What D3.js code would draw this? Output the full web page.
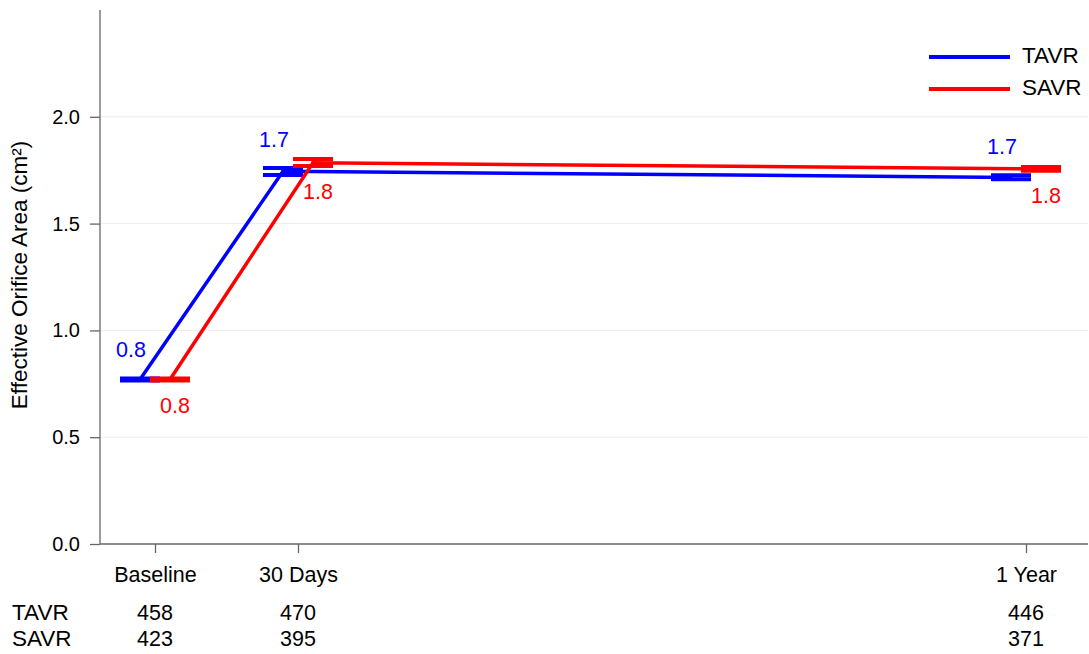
<!DOCTYPE html>
<html>
<head>
<meta charset="utf-8">
<script src="https://cdn.jsdelivr.net/npm/d3@7/dist/d3.min.js"></script>
<style>
  html, body { margin: 0; padding: 0; background: #fff; }
  svg { display: block; font-family: "Liberation Sans", Arial, sans-serif; }
</style>
</head>
<body>
<svg id="chart" width="1089" height="654"></svg>
<script>
// ---- data ----
const timeLabels = ["Baseline", "30 Days", "1 Year"];
const timeDays = [0, 30, 365];
const yTicks = [0.0, 0.5, 1.0, 1.5, 2.0];

const tavrMean  = [0.77, 1.745, 1.716];
const tavrLower = [0.765, 1.728, 1.708];
const tavrUpper = [0.775, 1.760, 1.726];
const tavrLabel = ["0.8", "1.7", "1.7"];
const tavrN     = ["458", "470", "446"];

const savrMean  = [0.77, 1.785, 1.756];
const savrLower = [0.765, 1.770, 1.748];
const savrUpper = [0.775, 1.802, 1.765];
const savrLabel = ["0.8", "1.8", "1.8"];
const savrN     = ["423", "395", "371"];

// ---- layout ----
const svg = d3.select("#chart");
const plotLeft = 100, plotRight = 1088, plotTop = 10, plotBottom = 544;

const x = d3.scaleLinear().domain(timeDays).range([155, 298, 1026]);
const y = d3.scaleLinear().domain([0, 2.5]).range([plotBottom, plotTop]);

// gridlines
svg.append("g").selectAll("line").data(yTicks.filter(d => d > 0)).join("line")
  .attr("x1", plotLeft).attr("x2", plotRight)
  .attr("y1", d => y(d)).attr("y2", d => y(d))
  .attr("stroke", "#ececec").attr("stroke-width", 1);

// y axis
const yAxis = d3.axisLeft(y).tickValues(yTicks).tickFormat(d3.format(".1f")).tickSize(10).tickPadding(10);
const gy = svg.append("g").attr("transform", `translate(${plotLeft},0)`).call(yAxis);
gy.select(".domain").attr("stroke", "#666").attr("stroke-width", 1.3).attr("d", `M0,${plotTop}V${plotBottom}`);
gy.selectAll(".tick line").attr("stroke", "#666").attr("stroke-width", 1.3);
gy.selectAll(".tick text").attr("font-size", 20).attr("fill", "#000")
  .attr("font-family", "Liberation Sans, Arial, sans-serif");

// x axis
const xAxis = d3.axisBottom(x).tickValues(timeDays).tickFormat((d, i) => timeLabels[i]).tickSize(9).tickPadding(14);
const gx = svg.append("g").attr("transform", `translate(0,${plotBottom})`).call(xAxis);
gx.select(".domain").attr("stroke", "#666").attr("stroke-width", 1.3).attr("d", `M${plotLeft},0H${plotRight}`);
gx.selectAll(".tick line").attr("stroke", "#666").attr("stroke-width", 1.3);
gx.selectAll(".tick text").attr("font-size", 21.5).attr("fill", "#000")
  .attr("font-family", "Liberation Sans, Arial, sans-serif");

// y label
svg.append("text")
  .attr("transform", `translate(27,275) rotate(-90)`)
  .attr("text-anchor", "middle").attr("font-size", 22.5).attr("fill", "#000")
  .text("Effective Orifice Area (cm²)");

// series
const offset = 15, capHalf = 20;
function drawSeries(color, mean, lower, upper, labels, dx, labelDx, labelDy, above) {
  const g = svg.append("g");
  const pts = timeDays.map((t, i) => [x(t) + dx, y(mean[i])]);
  g.append("path").attr("d", d3.line()(pts)).attr("fill", "none")
    .attr("stroke", color).attr("stroke-width", 3.5);
  timeDays.forEach((t, i) => {
    const cx = x(t) + dx;
    [lower[i], upper[i]].forEach(v => {
      g.append("line").attr("x1", cx - capHalf).attr("x2", cx + capHalf)
        .attr("y1", y(v)).attr("y2", y(v)).attr("stroke", color).attr("stroke-width", 4);
    });
    g.append("line").attr("x1", cx).attr("x2", cx)
      .attr("y1", y(lower[i])).attr("y2", y(upper[i])).attr("stroke", color).attr("stroke-width", 3);
    const ly = above ? y(upper[i]) - labelDy : y(lower[i]) + labelDy;
    g.append("text").attr("x", cx + labelDx).attr("y", ly)
      .attr("text-anchor", "middle").attr("font-size", 21.5).attr("fill", color)
      .attr("dominant-baseline", "middle").text(labels[i]);
  });
}
drawSeries("#0000ff", tavrMean, tavrLower, tavrUpper, tavrLabel, -offset, -9, 27, true);
drawSeries("#ff0000", savrMean, savrLower, savrUpper, savrLabel, offset, 5, 27, false);

// legend
const legend = [["TAVR", "#0000ff"], ["SAVR", "#ff0000"]];
legend.forEach(([name, color], i) => {
  const ly = 57 + i * 32;
  svg.append("line").attr("x1", 929).attr("x2", 1010).attr("y1", ly).attr("y2", ly)
    .attr("stroke", color).attr("stroke-width", 4);
  svg.append("text").attr("x", 1022).attr("y", ly).attr("dominant-baseline", "middle")
    .attr("font-size", 22.5).attr("fill", "#000").text(name);
});

// counts table
const rows = [["TAVR", tavrN], ["SAVR", savrN]];
rows.forEach(([name, counts], r) => {
  const ry = 614 + r * 26;
  svg.append("text").attr("x", 12).attr("y", ry).attr("dominant-baseline", "middle")
    .attr("font-size", 22.5).attr("fill", "#000").text(name);
  timeDays.forEach((t, i) => {
    svg.append("text").attr("x", x(t)).attr("y", ry).attr("dominant-baseline", "middle")
      .attr("text-anchor", "middle").attr("font-size", 21.5).attr("fill", "#000").text(counts[i]);
  });
});
</script>
</body>
</html>
